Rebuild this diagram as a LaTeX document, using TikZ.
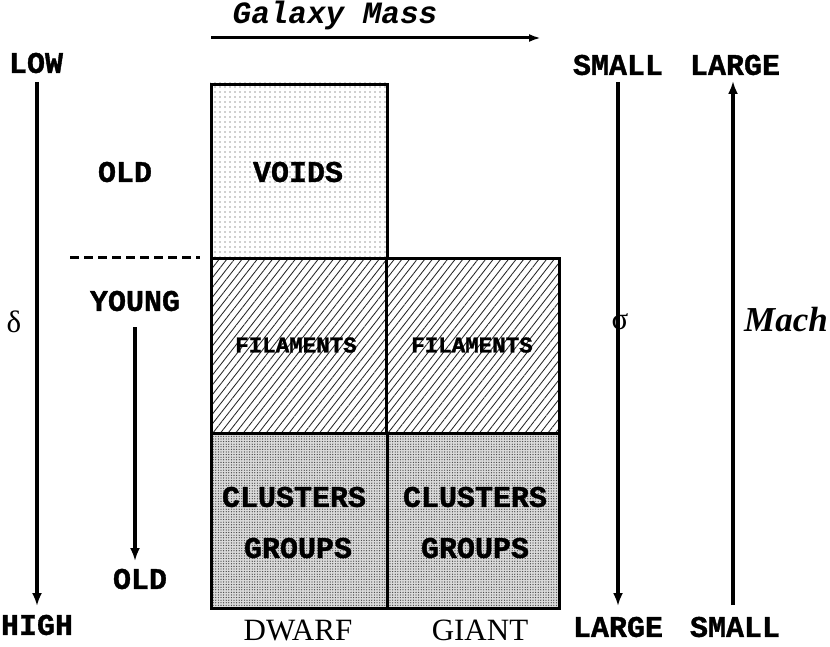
\documentclass[tikz,border=0pt]{standalone}
\usepackage{fontspec}
\setmainfont{Liberation Serif}
\newfontfamily\monofam{Liberation Mono}[BoldFeatures={FakeBold=1.2}]
\usetikzlibrary{arrows.meta,patterns.meta}
\begin{document}
\begin{tikzpicture}[x=1pt,y=-1pt,
  lbl/.style={font=\monofam\bfseries\fontsize{30}{51}\selectfont,inner sep=0pt,align=center},
  small/.style={font=\monofam\bfseries\fontsize{22.5}{26}\selectfont,inner sep=0pt},
  serif/.style={font=\fontsize{31}{34}\selectfont,inner sep=0pt},
  box/.style={draw=black,line width=3.2pt,inner sep=0pt,anchor=north west},
  sparsedots/.style={pattern={Dots[distance=5pt,radius=0.6pt]},pattern color=black!80},
  densedots/.style={fill=black!14,postaction={pattern={Dots[distance=2.6pt,radius=0.65pt]},pattern color=black!75}},
  hatch/.style={pattern={Lines[angle=52,distance=6pt,line width=0.85pt]},pattern color=black!85},
  arr/.style={line width=3.2pt,-{Latex[length=13pt,width=10pt]}},
]
\useasboundingbox (0,0) rectangle (830,647);

% boxes
\path[sparsedots] (210,83) rectangle (386,257);
\node[box,minimum width=176pt,minimum height=174pt] (voids) at (210,83) {};
\path[hatch] (210,257) rectangle (385,432);
\node[box,minimum width=175pt,minimum height=175pt] (filL) at (210,257) {};
\path[hatch] (385,257) rectangle (558,432);
\node[box,minimum width=173pt,minimum height=175pt] (filR) at (385,257) {};
\path[densedots] (210,432) rectangle (386,607);
\node[box,minimum width=176pt,minimum height=175pt] (cluL) at (210,432) {};
\path[densedots] (386,432) rectangle (558,607);
\node[box,minimum width=172pt,minimum height=175pt] (cluR) at (386,432) {};

% box labels
\node[lbl] (tvoids) at (298,172) {VOIDS};
\node[small] (tfilL) at (296,345) {FILAMENTS};
\node[small] (tfilR) at (472,345) {FILAMENTS};
\node[lbl] (tcluL) at (294,497) {CLUSTERS};
\node[lbl] (tgrpL) at (298,548) {GROUPS};
\node[lbl] (tcluR) at (475,497) {CLUSTERS};
\node[lbl] (tgrpR) at (475,548) {GROUPS};

% bottom labels
\node[serif] (dwarf) at (298,630) {DWARF};
\node[serif] (giant) at (480,630) {GIANT};

% galaxy mass
\node[font=\monofam\bfseries\itshape\fontsize{31}{34}\selectfont,inner sep=0pt] (gm) at (335,15) {Galaxy Mass};
\coordinate (gmA) at (211,38);
\coordinate (gmB) at (541,38);
\draw[line width=3pt,-{Latex[length=12pt,width=8pt]}] (gmA) -- (gmB);

% left axis
\node[lbl] (low) at (36,63) {LOW};
\node[lbl] (high) at (37,625) {HIGH};
\node[serif] (delta) at (14,322) {δ};
\coordinate (dA) at (37,82);
\coordinate (dB) at (37,606);
\draw[arr] (dA) -- (dB);

% age
\node[lbl] (old1) at (125,172) {OLD};
\coordinate (dsA) at (70,257);
\coordinate (dsB) at (200,257);
\draw[line width=3pt,dash pattern=on 9pt off 5pt] (dsA) -- (dsB);
\node[lbl] (young) at (135,301) {YOUNG};
\node[lbl] (old2) at (140,579) {OLD};
\coordinate (aA) at (135,327);
\coordinate (aB) at (135,561);
\draw[arr] (aA) -- (aB);

% sigma axis
\node[lbl] (sm1) at (618,65) {SMALL};
\node[lbl] (lg1) at (618,627) {LARGE};
\node[serif] (sigma) at (620,322) {σ};
\coordinate (sA) at (618,82);
\coordinate (sB) at (618,606);
\draw[arr] (sA) -- (sB);

% Mach axis
\node[lbl] (lg2) at (735,65) {LARGE};
\node[lbl] (sm2) at (735,627) {SMALL};
\node[font=\bfseries\itshape\fontsize{35}{38}\selectfont,inner sep=0pt] (mach) at (786,320) {Mach};
\coordinate (mA) at (733,605);
\coordinate (mB) at (733,81);
\draw[arr] (mA) -- (mB);
\end{tikzpicture}
\end{document}
